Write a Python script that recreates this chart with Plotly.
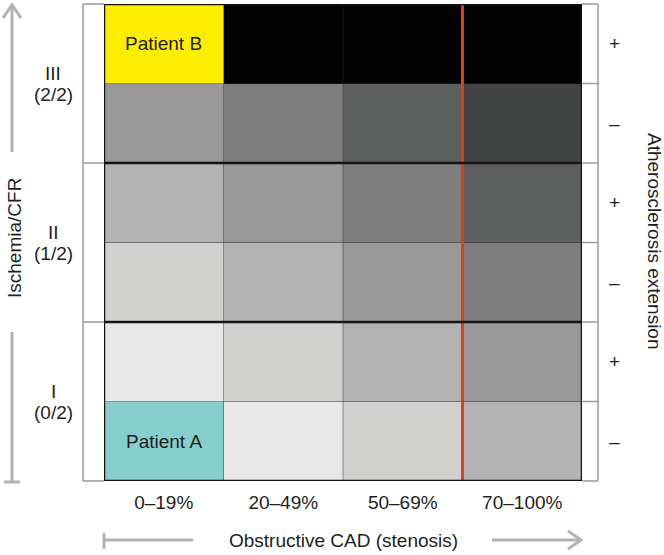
import plotly.graph_objects as go

# ---------------- data ----------------
stenosis_labels = ["0–19%", "20–49%", "50–69%", "70–100%"]
row_labels = ["I −", "I +", "II −", "II +", "III −", "III +"]
group_labels = ["I", "II", "III"]
group_fractions = ["(0/2)", "(1/2)", "(2/2)"]
extension_signs = ["–", "+", "–", "+", "–", "+"]

# colour-level index per cell (rows bottom→top, columns left→right)
level_grid = [
    [9, 0, 1, 2],
    [0, 1, 2, 3],
    [1, 2, 3, 4],
    [2, 3, 4, 5],
    [3, 4, 5, 6],
    [8, 7, 7, 7],
]
level_colors = ["#e8e8e8", "#d0d0cf", "#b1b2b1", "#989898", "#7e7e7e",
                "#5e605f", "#424443", "#020202", "#ffed00", "#88cdcd"]

patients = ["Patient B", "Patient A"]
patient_col = [0, 0]
patient_row = [5, 0]

cutoff_position = 2.5  # between 50–69% and 70–100%

# ---------------- geometry helpers ----------------
L, R, T, B = 104, 582, 4, 481
W, H = R - L, B - T


def px(X):
    return (X - L) / W


def py(Y):
    return (B - Y) / H


n_levels = len(level_colors)
colorscale = []
for i, c in enumerate(level_colors):
    colorscale.append([i / n_levels, c])
    colorscale.append([(i + 1) / n_levels, c])

ncol = len(stenosis_labels)
nrow = len(row_labels)

font_family = "Liberation Sans, Arial, Helvetica, sans-serif"
txt = "#1e1e1e"
fs = 19

fig = go.Figure()
fig.add_trace(go.Heatmap(
    z=level_grid,
    x=list(range(ncol)),
    y=list(range(nrow)),
    colorscale=colorscale,
    zmin=-0.5, zmax=n_levels - 0.5,
    showscale=False,
    hoverinfo="skip",
))

shapes = []
# thin cell separators
for c in range(1, ncol):
    shapes.append(dict(type="line", xref="x", yref="y", x0=c - 0.5, x1=c - 0.5,
                       y0=-0.5, y1=nrow - 0.5,
                       line=dict(color="rgba(40,40,40,0.45)", width=1)))
for r in range(1, nrow):
    if r % 2 == 1:
        shapes.append(dict(type="line", xref="x", yref="y", x0=-0.5, x1=ncol - 0.5,
                           y0=r - 0.5, y1=r - 0.5,
                           line=dict(color="rgba(40,40,40,0.45)", width=1)))
# red cutoff line
shapes.append(dict(type="line", xref="x", yref="y", x0=cutoff_position, x1=cutoff_position,
                   y0=-0.5, y1=nrow - 0.5, line=dict(color="#e23b22", width=3)))
# thick group boundaries
for r in range(2, nrow, 2):
    shapes.append(dict(type="line", xref="x", yref="y", x0=-0.5, x1=ncol - 0.5,
                       y0=r - 0.5, y1=r - 0.5,
                       line=dict(color="#151515", width=2.5)))
# outer border
shapes.append(dict(type="rect", xref="x", yref="y", x0=-0.5, x1=ncol - 0.5,
                   y0=-0.5, y1=nrow - 0.5, line=dict(color="#151515", width=2.5)))

bracket = dict(color="#9a9a9a", width=1.5)
# left bracket
shapes.append(dict(type="line", xref="paper", yref="paper", x0=px(83), x1=px(83),
                   y0=0, y1=1, line=bracket))
for g in range(len(group_labels) + 1):
    yv = g / len(group_labels)
    shapes.append(dict(type="line", xref="paper", yref="paper", x0=px(83), x1=0,
                       y0=yv, y1=yv, line=bracket))
# right bracket
shapes.append(dict(type="line", xref="paper", yref="paper", x0=px(598), x1=px(598),
                   y0=0, y1=1, line=bracket))
for r in range(nrow + 1):
    yv = r / nrow
    shapes.append(dict(type="line", xref="paper", yref="paper", x0=1, x1=px(598),
                       y0=yv, y1=yv, line=bracket))

arrow = dict(color="#b2b2b2", width=3)
# left vertical: up arrow
shapes.append(dict(type="line", xref="paper", yref="paper", x0=px(12), x1=px(12),
                   y0=py(152), y1=py(5), line=arrow))
shapes.append(dict(type="path", xref="paper", yref="paper",
                   path=f"M {px(3)},{py(18)} L {px(12)},{py(5)} L {px(21)},{py(18)}",
                   line=arrow))
# left vertical: lower bar with foot
shapes.append(dict(type="line", xref="paper", yref="paper", x0=px(12), x1=px(12),
                   y0=py(332), y1=py(482), line=arrow))
shapes.append(dict(type="line", xref="paper", yref="paper", x0=px(4), x1=px(20),
                   y0=py(482), y1=py(482), line=arrow))
# bottom: left bar with tick
shapes.append(dict(type="line", xref="paper", yref="paper", x0=px(104), x1=px(193),
                   y0=py(540), y1=py(540), line=arrow))
shapes.append(dict(type="line", xref="paper", yref="paper", x0=px(104), x1=px(104),
                   y0=py(533), y1=py(549), line=arrow))
# bottom: right arrow
shapes.append(dict(type="line", xref="paper", yref="paper", x0=px(492), x1=px(581),
                   y0=py(540), y1=py(540), line=arrow))
shapes.append(dict(type="path", xref="paper", yref="paper",
                   path=f"M {px(568)},{py(531)} L {px(581)},{py(540)} L {px(568)},{py(549)}",
                   line=arrow))


def ann(x, y, text, xref="paper", yref="paper", **kw):
    d = dict(x=x, y=y, xref=xref, yref=yref, text=text, showarrow=False,
             xanchor="center", yanchor="middle",
             font=dict(size=fs, color=txt, family=font_family))
    d.update(kw)
    return d


annotations = []
for name, c, r in zip(patients, patient_col, patient_row):
    annotations.append(ann(c, r, name, xref="x", yref="y"))
# group labels on the left
for g, (lab, frac) in enumerate(zip(group_labels, group_fractions)):
    yc = (2 * g + 1) / nrow
    annotations.append(ann(px(53), yc, lab, yshift=10))
    annotations.append(ann(px(53), yc, frac, yshift=-11))
# signs on the right
for r, s in enumerate(extension_signs):
    annotations.append(ann(px(614), (r + 0.5) / nrow, s))
# axis titles
annotations.append(ann(px(14), py(238), "Ischemia/CFR", textangle=-90))
annotations.append(ann(px(655), py(241), "Atherosclerosis extension", textangle=90))
annotations.append(ann(px(343), py(540), "Obstructive CAD (stenosis)"))

fig.update_layout(
    width=664, height=555, autosize=False,
    margin=dict(l=L, r=664 - R, t=T, b=555 - B, pad=0),
    paper_bgcolor="white", plot_bgcolor="white",
    shapes=shapes, annotations=annotations,
    xaxis=dict(range=[-0.5, ncol - 0.5], tickvals=list(range(ncol)), ticktext=stenosis_labels,
               showgrid=False, zeroline=False, showline=False, ticks="",
               tickfont=dict(size=fs, color=txt, family=font_family),
               ticklabelstandoff=8, fixedrange=True),
    yaxis=dict(range=[-0.5, nrow - 0.5], showticklabels=False, showgrid=False,
               zeroline=False, showline=False, ticks="", fixedrange=True),
    showlegend=False,
)

fig.write_html("out.html", config={"displayModeBar": False},
               post_script="document.body.style.margin='0';document.body.style.padding='0';")
